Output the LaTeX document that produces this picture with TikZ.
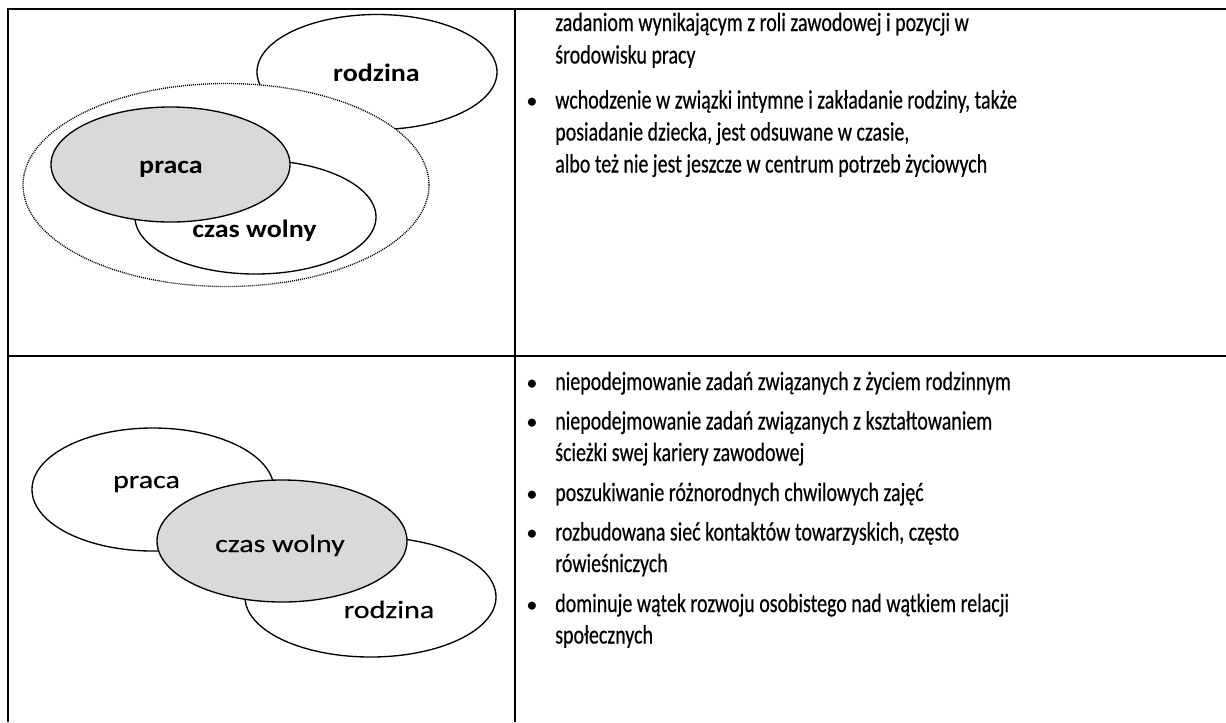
\documentclass[tikz,border=0pt]{standalone}
\usepackage{fontspec}
\setmainfont{Carlito}
\newfontfamily\bodyfont[FakeStretch=0.755, FakeBold=0.4]{Carlito}
\newfontfamily\bulfont{Carlito}
\newfontfamily\lblbold[FakeStretch=1.12]{Carlito}
\newfontfamily\lblreg[FakeStretch=1.2, FakeBold=0.3]{Carlito}
\usetikzlibrary{shapes.geometric}
\definecolor{ellgray}{RGB}{217,217,217}
\tikzset{
  tbl/.style={line width=1.5pt, black},
  ell/.style={ellipse, draw=black, line width=1pt, fill=white, inner sep=0pt, outer sep=0pt},
  grayell/.style={ell, fill=ellgray},
  dotell/.style={ellipse, draw=black, line width=1pt, dash pattern=on 0.75pt off 0.75pt, fill=white, inner sep=0pt, outer sep=0pt},
  lblB/.style={anchor=base, inner sep=0pt, font=\lblbold\bfseries\fontsize{18.75pt}{22pt}\selectfont},
  lblR/.style={anchor=base, inner sep=0pt, font=\lblreg\fontsize{18.75pt}{22pt}\selectfont},
  body/.style={anchor=base west, inner sep=0pt, font=\bodyfont\fontsize{19.8pt}{24pt}\selectfont},
  bul/.style={anchor=base west, inner sep=0pt, font=\bulfont\fontsize{17pt}{20pt}\selectfont},
}
\begin{document}
\begin{tikzpicture}[x=0.75pt, y=-0.75pt]
\useasboundingbox (0,0) rectangle (1226,722);
% table rules
\draw[tbl] (7.8,9) -- (1226,9);
\draw[tbl] (7.8,355.5) -- (1226,355.5);
\draw[tbl] (7.8,8.25) -- (7.8,722);
\draw[tbl] (514.5,8.25) -- (514.5,722);

% ---- top diagram ----
\node[ell, minimum width=180pt, minimum height=86.25pt] (t-rod) at (377,72) {};
\node[dotell, minimum width=304.5pt, minimum height=152.25pt] (t-dot) at (226,185) {};
\node[ell, minimum width=180.75pt, minimum height=85.5pt] (t-czas) at (255.5,217) {};
\node[grayell, minimum width=179.25pt, minimum height=86.25pt] (t-praca) at (170.5,164.5) {};
\node[lblB] (t-rod-l) at (376.5,81.7) {rodzina};
\node[lblB] (t-praca-l) at (171,173) {praca};
\node[lblB] (t-czas-l) at (254.5,237) {czas wolny};

% ---- bottom diagram ----
\node[ell, minimum width=181.5pt, minimum height=92.25pt] (b-praca) at (153,489.5) {};
\node[ell, minimum width=188.25pt, minimum height=90pt] (b-rod) at (370.5,597) {};
\node[grayell, minimum width=187.5pt, minimum height=91.5pt] (b-czas) at (282,541) {};
\node[lblR] (b-praca-l) at (146.5,488) {praca};
\node[lblR] (b-czas-l) at (280,552) {czas wolny};
\node[lblR] (b-rod-l) at (389,618) {rodzina};

% ---- top text ----
\node[body] (t1) at (555,31) {zadaniom wynikającym z roli zawodowej i pozycji w};
\node[body] (t2) at (555,63.5) {środowisku pracy};
\node[bul] (tb3) at (526,108.5) {•};
\node[body] (t3) at (555,108.5) {wchodzenie w związki intymne i zakładanie rodziny, także};
\node[body] (t4) at (555,140.5) {posiadanie dziecka, jest odsuwane w czasie,};
\node[body] (t5) at (555,172.5) {albo też nie jest jeszcze w centrum potrzeb życiowych};

% ---- bottom text ----
\node[bul] (bb1) at (526,390) {•};
\node[body] (b1) at (555,390) {niepodejmowanie zadań związanych z życiem rodzinnym};
\node[bul] (bb2) at (526,429.5) {•};
\node[body] (b2) at (555,429.5) {niepodejmowanie zadań związanych z kształtowaniem};
\node[body] (b2b) at (555,461) {ścieżki swej kariery zawodowej};
\node[bul] (bb3) at (526,501) {•};
\node[body] (b3) at (555,501) {poszukiwanie różnorodnych chwilowych zajęć};
\node[bul] (bb4) at (526,540.5) {•};
\node[body] (b4) at (555,540.5) {rozbudowana sieć kontaktów towarzyskich, często};
\node[body] (b4b) at (555,572) {rówieśniczych};
\node[bul] (bb5) at (526,612) {•};
\node[body] (b5) at (555,612) {dominuje wątek rozwoju osobistego nad wątkiem relacji};
\node[body] (b5b) at (555,643.5) {społecznych};
\end{tikzpicture}
\end{document}
